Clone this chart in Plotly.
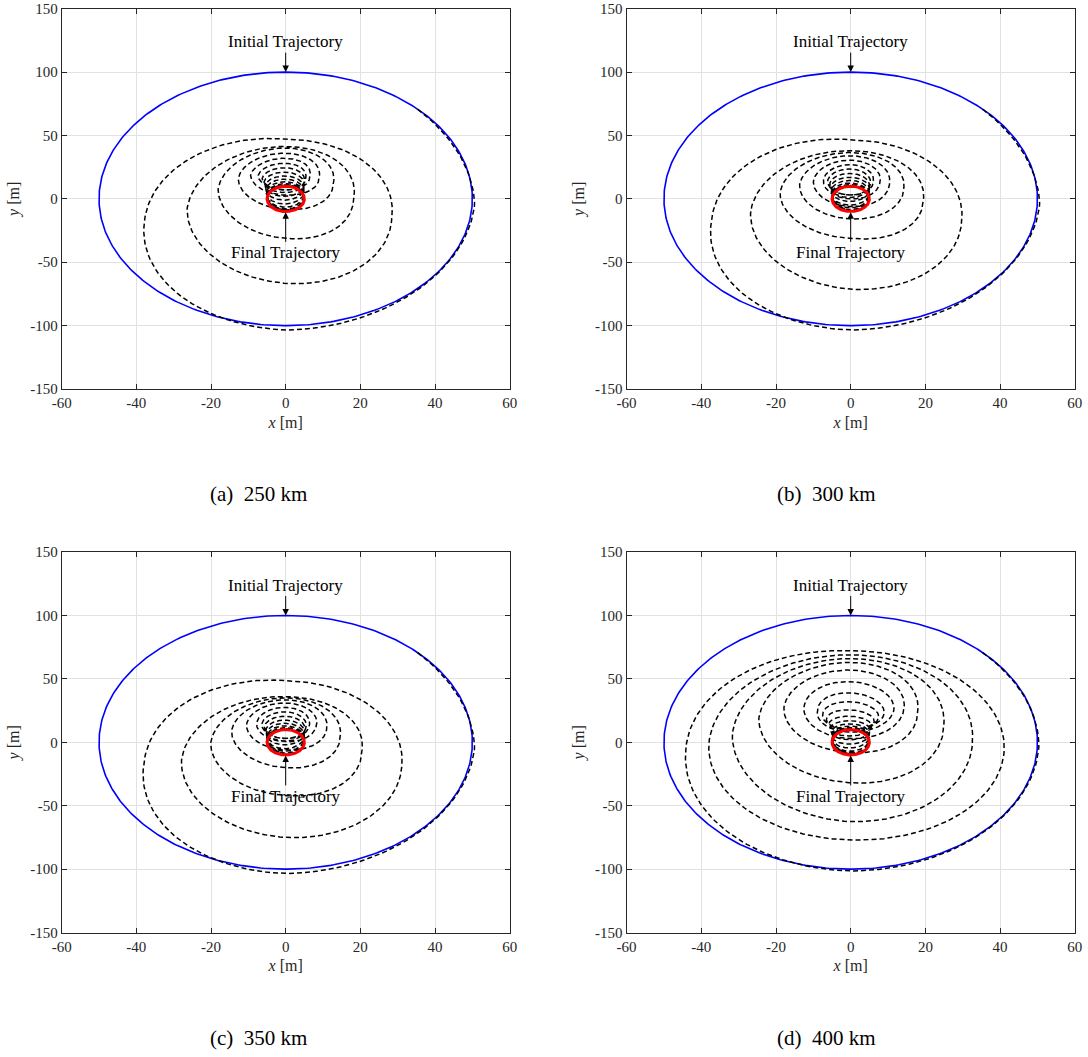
import numpy as np
import plotly.graph_objects as go

# Initial (blue) and final (red) relative orbits: semi-axes in x and y [m]
INIT_AX, INIT_AY = 50.0, 100.0
FINAL_AX, FINAL_AY = 5.0, 10.0
START_PHASE = np.pi / 4  # where the manoeuvre leaves the initial orbit

captions = ["(a)\u00a0\u00a0250 km", "(b)\u00a0\u00a0300 km",
            "(c)\u00a0\u00a0350 km", "(d)\u00a0\u00a0400 km"]
x_ticks = [-60, -40, -20, 0, 20, 40, 60]
y_ticks = [-150, -100, -50, 0, 50, 100, 150]

# Turning points of each revolution of the transfer spiral [m]:
# right-most x, lowest y, left-most x, highest y (in that order around the loop)
right_a = [50.6, 28.4, 18.2, 12.8, 9.0, 6.5, 5.4, 5.0, 4.9, 4.9, 4.9, 5.0, 5.0, 5.0, 5.0]
bottom_a = [-103.5, -66.6, -31.1, -8.2, 3.0, 7.0, 7.0, 5.0, 2.0, -1.0, -4.0, -6.5, -8.0, -9.0, -9.5]
left_a = [-37.8, -26.4, -18.1, -12.7, -9.4, -7.4, -6.3, -5.8, -5.5, -5.3, -5.2, -5.1, -5.0, -5.0, -5.0]
top_a = [47.1, 41.3, 40.1, 36.0, 32.0, 28.0, 24.5, 21.0, 18.0, 15.5, 13.5, 12.0, 11.0, 10.5, 10.2]

right_b = [50.6, 29.7, 19.4, 14.2, 10.4, 7.9, 6.1, 5.3, 5.0, 5.0, 5.0, 5.0, 5.0, 5.0]
bottom_b = [-103.5, -71.3, -31.1, -15.8, -6.0, 0.0, 3.0, 3.0, 1.0, -2.0, -5.0, -7.0, -8.5, -9.5]
left_b = [-37.3, -26.8, -18.9, -13.7, -10.0, -7.3, -6.2, -5.6, -5.3, -5.2, -5.1, -5.0, -5.0, -5.0]
top_b = [46.6, 38.0, 36.5, 34.0, 30.5, 27.0, 23.5, 20.0, 17.0, 14.5, 12.5, 11.2, 10.5, 10.2]

right_c = [50.6, 31.1, 20.4, 14.6, 11.0, 8.3, 6.4, 5.5, 5.1, 5.0, 5.0, 5.0, 5.0, 5.0]
bottom_c = [-103.5, -75.0, -42.0, -20.0, -6.0, 0.5, 3.0, 3.0, 1.0, -2.0, -5.0, -7.0, -8.5, -9.5]
left_c = [-38.0, -27.9, -20.1, -14.5, -10.5, -7.8, -6.4, -5.7, -5.3, -5.2, -5.1, -5.0, -5.0, -5.0]
top_c = [48.6, 36.0, 35.0, 33.5, 31.0, 27.5, 24.0, 20.5, 17.5, 15.0, 13.0, 11.5, 10.6, 10.2]

right_d = [50.4, 41.1, 32.6, 24.9, 17.9, 14.3, 11.6, 9.0, 7.5, 6.3, 5.6, 5.2, 5.0, 5.0, 5.0, 5.0, 5.0]
bottom_d = [-101.5, -77.0, -62.6, -31.9, -8.0, 3.0, 8.0, 10.0, 10.0, 8.0, 5.0, 2.0, -1.5, -4.5, -7.0, -8.8, -9.7]
left_d = [-44.2, -38.0, -31.7, -24.6, -17.9, -12.5, -8.9, -7.5, -6.5, -5.8, -5.4, -5.2, -5.1, -5.0, -5.0, -5.0, -5.0]
top_d = [72.2, 69.0, 66.0, 63.0, 57.0, 47.8, 39.0, 32.0, 25.5, 20.5, 17.0, 14.5, 12.8, 11.6, 10.8, 10.3, 10.1]

panels = [
    (right_a, bottom_a, left_a, top_a),
    (right_b, bottom_b, left_b, top_b),
    (right_c, bottom_c, left_c, top_c),
    (right_d, bottom_d, left_d, top_d),
]

FONT = "Liberation Serif"
INK = "#262626"
W, H = 1088, 1057
# plot boxes in page pixels: (left, right, top, bottom)
boxes = [(61.7, 509.7, 8.7, 389.0), (626.6, 1074.8, 8.7, 389.0),
         (61.7, 509.7, 552.1, 932.5), (626.6, 1074.8, 552.1, 932.5)]
caption_pos = [(258, 494), (826, 494), (258, 1038), (826, 1038)]


def orbit(ax_, ay_, n=400):
    t = np.linspace(0, 2 * np.pi, n)
    return ax_ * np.sin(t), ay_ * np.cos(t)


def knots(ext, prev):
    """Centre and half-size at each turning point, from its neighbours."""
    e = np.concatenate([[prev], ext, [ext[-1]]])
    c = (e[:-2] + 2 * e[1:-1] + e[2:]) / 4
    return c, np.abs(e[1:-1] - c)


def spiral(right, bottom, left, top, pts=90):
    """Clockwise path x = a sin(th), y = c + b cos(th) through the turning points."""
    xt = []
    yt = []
    for r, b, l, t in zip(right, bottom, left, top):
        xt += [r, l]
        yt += [b, t]
    xt = np.asarray(xt)
    yt = np.asarray(yt)

    # x: amplitude at each left/right turning point, initial orbit until departure
    th_x = np.concatenate([[START_PHASE], np.pi / 2 + np.pi * np.arange(len(xt))])
    a_x = np.concatenate([[INIT_AX], np.abs(xt)])

    # y: centre and half-height at each top/bottom turning point
    c_k, b_k = knots(np.concatenate([[INIT_AY], yt]), -INIT_AY)
    th_y = np.concatenate([[START_PHASE], np.pi * np.arange(1, len(yt) + 1)])
    c_y = np.concatenate([[0.0], c_k[1:]])
    b_y = np.concatenate([[INIT_AY], b_k[1:]])

    th_end = th_y[-1]
    th = np.arange(START_PHASE, th_end, np.pi / pts)
    th = np.append(th, th_end)
    x = np.interp(th, th_x, a_x) * np.sin(th)
    y = np.interp(th, th_y, c_y) + np.interp(th, th_y, b_y) * np.cos(th)
    return x, y


fig = go.Figure()
ix, iy = orbit(INIT_AX, INIT_AY)
fx, fy = orbit(FINAL_AX, FINAL_AY)

for i, (r, b, l, t) in enumerate(panels):
    sfx = "" if i == 0 else str(i + 1)
    xa, ya = "x" + sfx, "y" + sfx
    sx, sy = spiral(r, b, l, t)
    fig.add_trace(go.Scatter(x=ix, y=iy, mode="lines", xaxis=xa, yaxis=ya,
                             line=dict(color="#0000ff", width=1.6), showlegend=False))
    fig.add_trace(go.Scatter(x=sx, y=sy, mode="lines", xaxis=xa, yaxis=ya,
                             line=dict(color="black", width=1.5, dash="5px,3px"), showlegend=False))
    fig.add_trace(go.Scatter(x=fx, y=fy, mode="lines", xaxis=xa, yaxis=ya,
                             line=dict(color="#ff0000", width=3), showlegend=False))

    l0, r0, t0, b0 = boxes[i]
    axis_common = dict(showgrid=True, gridcolor="#e2e2e2", gridwidth=1, zeroline=False,
                       showline=True, linecolor=INK, linewidth=1, mirror="ticks",
                       ticks="inside", ticklen=5, tickcolor=INK, automargin=False,
                       tickfont=dict(family=FONT, size=15, color=INK))
    fig.layout["xaxis" + sfx] = dict(axis_common, domain=[l0 / W, r0 / W], range=[-60, 60],
                                     tickvals=x_ticks, ticktext=[str(v) for v in x_ticks],
                                     anchor=ya,
                                     title=dict(text="<i>x</i> [m]", standoff=6,
                                                font=dict(family=FONT, size=16, color=INK)))
    fig.layout["yaxis" + sfx] = dict(axis_common, domain=[1 - b0 / H, 1 - t0 / H], range=[-150, 150],
                                     tickvals=y_ticks, ticktext=[str(v) for v in y_ticks],
                                     anchor=xa,
                                     title=dict(text="<i>y</i> [m]", standoff=6,
                                                font=dict(family=FONT, size=16, color=INK)))

    fig.add_annotation(x=0, y=INIT_AY, ax=0, ay=124, xref=xa, yref=ya, axref=xa, ayref=ya,
                       text="Initial Trajectory", showarrow=True, arrowhead=2, arrowsize=1.3,
                       arrowwidth=1, arrowcolor="black",
                       font=dict(family=FONT, size=17, color="black"))
    fig.add_annotation(x=0, y=-FINAL_AY - 0.5, ax=0, ay=-42.6, xref=xa, yref=ya, axref=xa, ayref=ya,
                       text="Final Trajectory", showarrow=True, arrowhead=2, arrowsize=1.3,
                       arrowwidth=1, arrowcolor="black",
                       font=dict(family=FONT, size=17, color="black"))
    cx, cy = caption_pos[i]
    fig.add_annotation(x=cx / W, y=1 - cy / H, xref="paper", yref="paper", showarrow=False,
                       xanchor="center", yanchor="middle",
                       text=captions[i], font=dict(family=FONT, size=21, color="black"))

fig.update_layout(width=W, height=H, margin=dict(l=0, r=0, t=0, b=0),
                  plot_bgcolor="white", paper_bgcolor="white")

fig.write_html("out.html")
